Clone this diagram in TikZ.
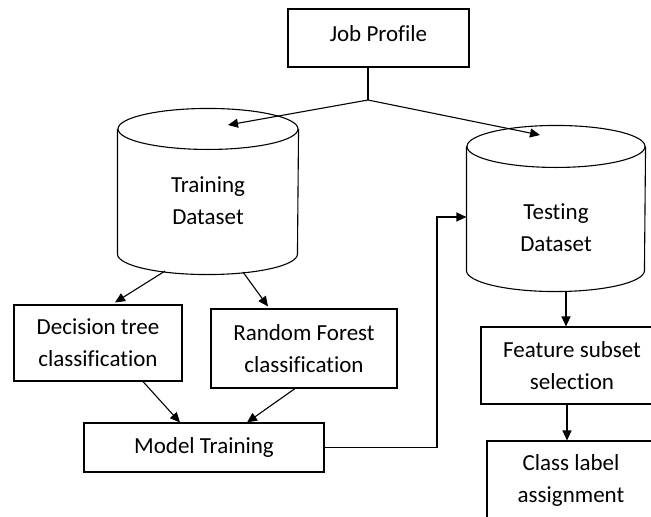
\documentclass[tikz,border=0pt]{standalone}
\usepackage{fontspec}
\setmainfont{Carlito}[Ligatures=CommonOff]
\usetikzlibrary{arrows.meta,calc,positioning}

% database drum around a body node: node, x radius, y radius
\newcommand{\dbshape}[3]{%
  \draw ([yshift=#3]#1.north west) -- (#1.south west)
    arc[start angle=180,end angle=360,x radius=#2,y radius=#3]
    -- ([yshift=#3]#1.north east);
  \draw ([yshift=#3]#1.north) ellipse[x radius=#2,y radius=#3];}

\begin{document}
\begin{tikzpicture}[x=1pt,y=-1pt,>={Triangle[length=10pt,width=9pt]},
  line width=1.1pt,
  font=\fontsize{23}{32}\selectfont,
  box/.style={draw,rectangle,align=center,inner sep=0pt},
  db/.style={rectangle,inner sep=0pt}]
  \useasboundingbox (0,0) rectangle (651,517);
  \begin{scope}
  \clip (0,0) rectangle (651,517);
  \node[box,minimum width=181pt,minimum height=58pt,text depth=8pt] (job) at (378.5,38) {Job Profile};
  \node[db,minimum width=180pt,minimum height=103.5pt,
    label={[align=center,yshift=1pt]center:Training\\Dataset}] (train) at (208,201.75) {};
  \node[db,minimum width=178pt,minimum height=102pt,
    label={[align=center,yshift=-9pt]center:Testing\\Dataset}] (test) at (556,219) {};
  \dbshape{train}{90pt}{20.5pt}
  \dbshape{test}{89pt}{21pt}
  \node[box,minimum width=168pt,minimum height=76pt] (dtree) at (98,343) {Decision tree\\classification};
  \node[box,minimum width=186pt,minimum height=79pt] (rforest) at (304,348.5) {Random Forest\\classification};
  \node[box,minimum width=240pt,minimum height=49pt] (model) at (204,447.5) {Model Training};
  \node[box,minimum width=182pt,minimum height=77pt] (feat) at (572,365.5) {Feature subset\\selection};
  \node[box,minimum width=168pt,minimum height=78pt] (label) at (571,480) {Class label\\assignment};
  % split point below the profile box
  \coordinate (split) at (368,100);
  \coordinate (traintop) at (228,125);
  \coordinate (testtop) at (540,135);
  \coordinate (bend) at (437,217);
  \draw (job.south -| split) -- (split);
  \draw[->] (split) -- (traintop);
  \draw[->] (split) -- (testtop);
  \draw[->] ([xshift=-43pt,yshift=-17pt]train.south) -- ([xshift=17pt,yshift=2pt]dtree.north);
  \draw[->] ([xshift=35pt,yshift=-18pt]train.south) -- ([xshift=-36pt,yshift=2pt]rforest.north);
  \draw[->] ([xshift=45pt]dtree.south) -- ([xshift=-24pt]model.north);
  \draw[->] ([xshift=-9pt]rforest.south) -- ([xshift=43pt]model.north);
  \draw[->] (model.east) -| (bend) -- (bend -| test.west);
  \draw[->] ([xshift=10pt,yshift=-20pt]test.south) -- ([xshift=10pt]test.south |- feat.north);
  \draw[->] ([xshift=-5pt]feat.south) -- ([xshift=-5pt]feat.south |- label.north);
  \end{scope}
\end{tikzpicture}
\end{document}
